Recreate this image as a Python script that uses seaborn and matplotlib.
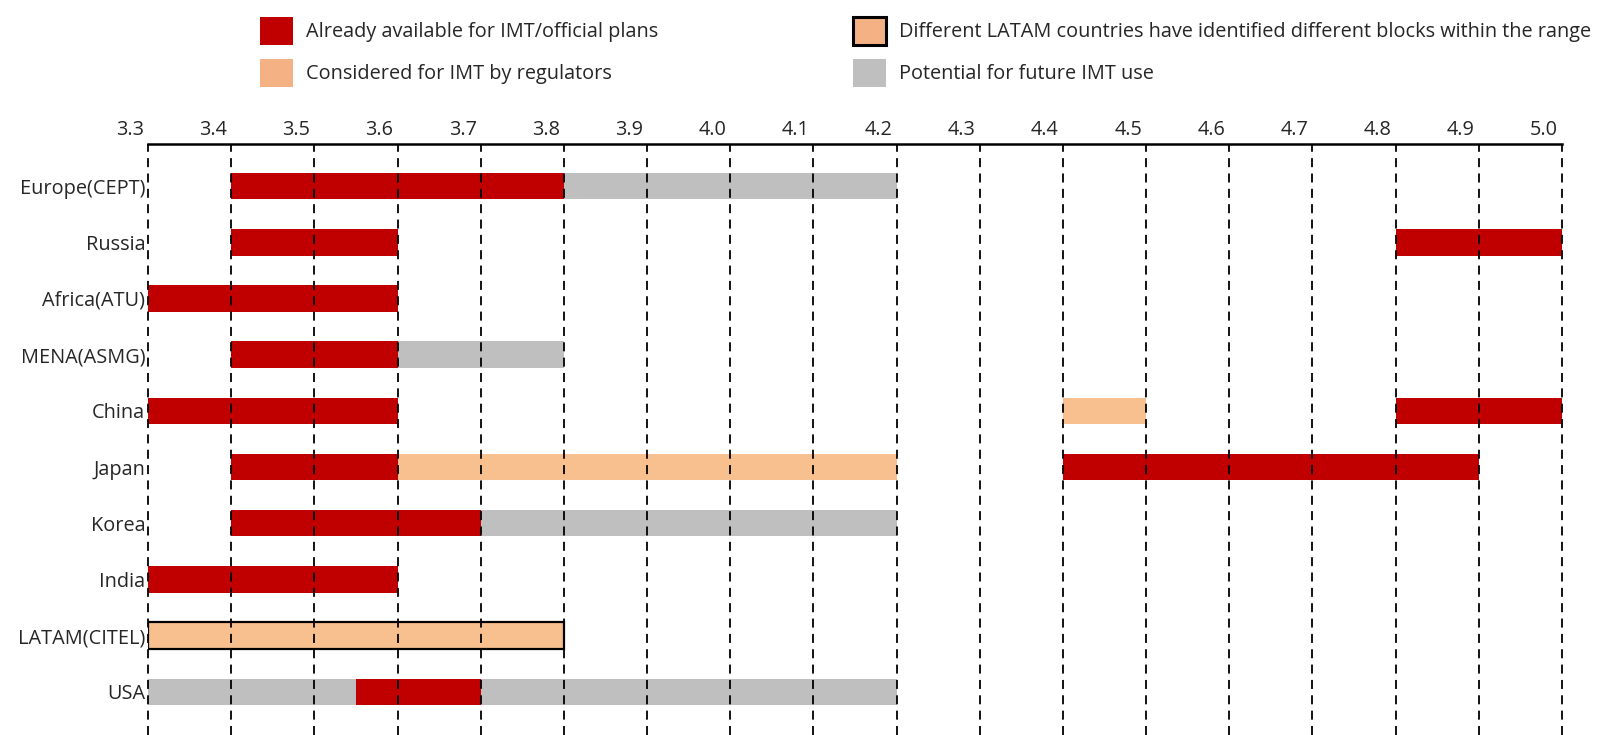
import seaborn as sns
import pandas as pd
import matplotlib.pyplot as plt
import matplotlib.patches as mpatches
import matplotlib.transforms as mtransforms

# data
regions = ["Europe(CEPT)", "Russia", "Africa(ATU)", "MENA(ASMG)", "China",
           "Japan", "Korea", "India", "LATAM(CITEL)", "USA"]

seg_region = ["Europe(CEPT)", "Europe(CEPT)", "Russia", "Russia", "Africa(ATU)",
              "MENA(ASMG)", "MENA(ASMG)", "China", "China", "China",
              "Japan", "Japan", "Japan", "Korea", "Korea", "India",
              "LATAM(CITEL)", "USA", "USA", "USA"]
seg_start = [3.4, 3.8, 3.4, 4.8, 3.3,
             3.4, 3.6, 3.3, 4.4, 4.8,
             3.4, 3.6, 4.4, 3.4, 3.7, 3.3,
             3.3, 3.3, 3.55, 3.7]
seg_end = [3.8, 4.2, 3.6, 5.0, 3.6,
           3.6, 3.8, 3.6, 4.5, 5.0,
           3.6, 4.2, 4.9, 3.7, 4.2, 3.6,
           3.8, 3.55, 3.7, 4.2]
seg_kind = ["avail", "future", "avail", "avail", "avail",
            "avail", "future", "avail", "considered", "avail",
            "avail", "considered", "avail", "avail", "future", "avail",
            "latam", "future", "avail", "future"]

ticks = [3.3, 3.4, 3.5, 3.6, 3.7, 3.8, 3.9, 4.0, 4.1, 4.2,
         4.3, 4.4, 4.5, 4.6, 4.7, 4.8, 4.9, 5.0]
tick_labels = ["%.1f" % t for t in ticks]

legend_labels = {
    "avail": "Already available for IMT/official plans",
    "considered": "Considered for IMT by regulators",
    "latam": "Different LATAM countries have identified different blocks within the range",
    "future": "Potential for future IMT use",
}

colours = {"avail": "#C00000", "considered": "#F8BF8F",
           "latam": "#F8BF8F", "future": "#BFBFBF"}

df = pd.DataFrame({"region": seg_region, "start": seg_start,
                   "end": seg_end, "kind": seg_kind})
df["row"] = df["region"].map({r: i for i, r in enumerate(regions)})

sns.set_theme(style="white")
plt.rcParams["font.family"] = ["Open Sans", "DejaVu Sans"]
FS = 14.3

fig = plt.figure(figsize=(16, 7.35), dpi=100)
ax = fig.add_axes([148 / 1600, 0, (1562 - 148) / 1600, 1 - 144 / 735])

for _, seg in df.iterrows():
    is_latam = seg["kind"] == "latam"
    ax.barh(seg["row"], seg["end"] - seg["start"], left=seg["start"],
            height=0.47, color=colours[seg["kind"]],
            edgecolor="black" if is_latam else "none",
            linewidth=1.6 if is_latam else 0, zorder=2)

# dashed grid on top of the bars
for t in ticks:
    ax.axvline(t, color="black", linestyle=(0, (5, 3.5)), linewidth=1.3,
               zorder=4, clip_on=False)

ax.set_xlim(3.3, 5.0)
ax.set_ylim(len(regions) - 1 + 0.77, -0.75)
ax.set_yticks(range(len(regions)), regions)
ax.xaxis.tick_top()
ax.set_xticks(ticks, tick_labels)
ax.tick_params(axis="x", length=0, pad=3, labelsize=FS)
ax.tick_params(axis="y", length=0, pad=2, labelsize=FS)

# labels sit a little left of their lines
offset = mtransforms.ScaledTranslation(-18 / 100, 0, fig.dpi_scale_trans)
for lab in ax.get_xticklabels():
    lab.set_transform(lab.get_transform() + offset)

for side in ["left", "right", "bottom"]:
    ax.spines[side].set_visible(False)
ax.spines["top"].set_color("black")
ax.spines["top"].set_linewidth(1.8)

def make_handle(kind):
    if kind == "latam":
        return mpatches.Patch(facecolor="#F4B183", edgecolor="black", linewidth=2.2)
    return mpatches.Patch(facecolor=colours[kind] if kind != "considered" else "#F4B183",
                          edgecolor="none")

leg_kw = dict(frameon=False, handlelength=1.65, handleheight=1.78,
              handletextpad=0.65, labelspacing=0.72, fontsize=FS,
              borderpad=0, borderaxespad=0)
leg1 = fig.legend([make_handle("avail"), make_handle("considered")],
                  [legend_labels["avail"], legend_labels["considered"]],
                  loc="upper left", bbox_to_anchor=(260 / 1600, 1 - 17 / 735), **leg_kw)
leg2 = fig.legend([make_handle("latam"), make_handle("future")],
                  [legend_labels["latam"], legend_labels["future"]],
                  loc="upper left", bbox_to_anchor=(853 / 1600, 1 - 17 / 735), **leg_kw)

plt.savefig("out.png", dpi=100)
